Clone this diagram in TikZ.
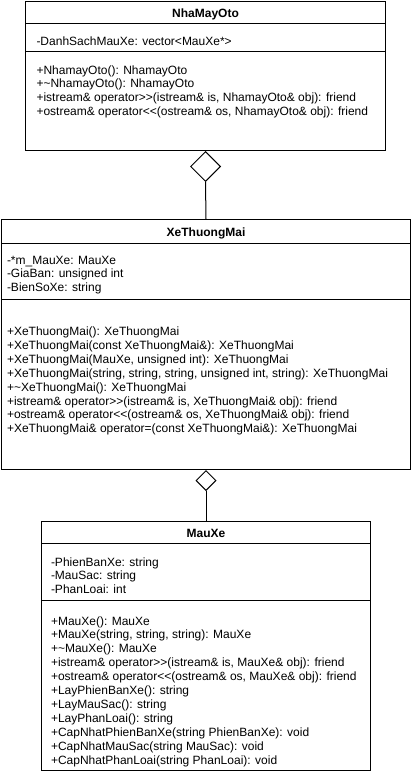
\documentclass[tikz,border=0pt]{standalone}
\usepackage{fontspec}
\setmainfont{Liberation Sans}
\usetikzlibrary{shapes.geometric}
% keep >> and << from turning into guillemets
\newcommand\gtgt{>\kern0pt>}
\newcommand\ltlt{<\kern0pt<}
\begin{document}
\begin{tikzpicture}[x=1pt, y=-1pt, line width=1pt,
    classbox/.style={rectangle, draw, inner sep=0, anchor=north west},
    title/.style={anchor=base, inner sep=0, font=\fontsize{12}{13.8}\selectfont\bfseries},
    member/.style={anchor=base west, inner sep=0, font=\fontsize{12}{13.8}\selectfont},
    aggr/.style={diamond, draw, fill=white, inner sep=0, anchor=north}]
    \useasboundingbox (0,0) rectangle (412,771);

    % NhaMayOto
    \node[classbox, minimum width=360, minimum height=149] (nha) at (25,1) {};
    \node[title] (nha-name) at (nha.north |- 0,17.5) {NhaMayOto};
    \draw (nha.west |- 0,23) -- (nha.east |- 0,23);
    \draw (nha.west |- 0,51) -- (nha.east |- 0,51);
    \node[member] (nha-attr) at (36,45) {-DanhSachMauXe: vector<MauXe*>};
    \foreach \m [count=\i from 0] in {
        {+NhamayOto(): NhamayOto},
        {+\textasciitilde NhamayOto(): NhamayOto},
        {+istream\& operator\gtgt(istream\& is, NhamayOto\& obj): friend},
        {+ostream\& operator\ltlt(ostream\& os, NhamayOto\& obj): friend}}
        \node[member] (nha-op\i) at (36,74+13.8*\i) {\m};

    % XeThuongMai
    \node[classbox, minimum width=409, minimum height=250] (xe) at (1,219) {};
    \node[title] (xe-name) at (xe.north |- 0,236.5) {XeThuongMai};
    \draw (xe.west |- 0,243) -- (xe.east |- 0,243);
    \draw (xe.west |- 0,299) -- (xe.east |- 0,299);
    \foreach \m [count=\i from 0] in {
        {-*m\_MauXe: MauXe},
        {-GiaBan: unsigned int},
        {-BienSoXe: string}}
        \node[member] (xe-attr\i) at (6.5,264+13.8*\i) {\m};
    \foreach \m [count=\i from 0] in {
        {+XeThuongMai(): XeThuongMai},
        {+XeThuongMai(const XeThuongMai\&): XeThuongMai},
        {+XeThuongMai(MauXe, unsigned int): XeThuongMai},
        {+XeThuongMai(string, string, string, unsigned int, string): XeThuongMai},
        {+\textasciitilde XeThuongMai(): XeThuongMai},
        {+istream\& operator\gtgt(istream\& is, XeThuongMai\& obj): friend},
        {+ostream\& operator\ltlt(ostream\& os, XeThuongMai\& obj): friend},
        {+XeThuongMai\& operator=(const XeThuongMai\&): XeThuongMai}}
        \node[member] (xe-op\i) at (6.5,335.5+13.9*\i) {\m};

    % MauXe
    \node[classbox, minimum width=329, minimum height=249] (mau) at (41,521) {};
    \node[title] (mau-name) at (mau.north |- 0,537.5) {MauXe};
    \draw (mau.west |- 0,543) -- (mau.east |- 0,543);
    \draw (mau.west |- 0,600) -- (mau.east |- 0,600);
    \foreach \m [count=\i from 0] in {
        {-PhienBanXe: string},
        {-MauSac: string},
        {-PhanLoai: int}}
        \node[member] (mau-attr\i) at (50.5,566+13.8*\i) {\m};
    \foreach \m [count=\i from 0] in {
        {+MauXe(): MauXe},
        {+MauXe(string, string, string): MauXe},
        {+\textasciitilde MauXe(): MauXe},
        {+istream\& operator\gtgt(istream\& is, MauXe\& obj): friend},
        {+ostream\& operator\ltlt(ostream\& os, MauXe\& obj): friend},
        {+LayPhienBanXe(): string},
        {+LayMauSac(): string},
        {+LayPhanLoai(): string},
        {+CapNhatPhienBanXe(string PhienBanXe): void},
        {+CapNhatMauSac(string MauSac): void},
        {+CapNhatPhanLoai(string PhanLoai): void}}
        \node[member] (mau-op\i) at (50.5,625+13.9*\i) {\m};

    % aggregations
    \node[aggr, minimum width=30, minimum height=30] (agg-nha) at (nha.south) {};
    \draw (xe.north) -- (agg-nha.south);
    \node[aggr, minimum width=20, minimum height=20] (agg-xe) at (xe.south) {};
    \draw (mau.north) -- (agg-xe.south);
\end{tikzpicture}
\end{document}
